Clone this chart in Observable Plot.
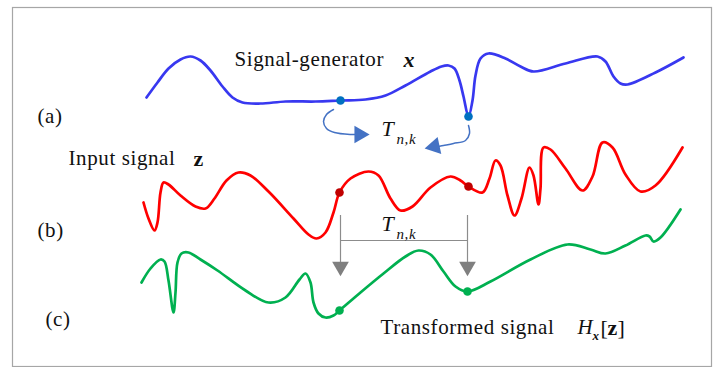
<!DOCTYPE html>
<html>
<head>
<meta charset="utf-8">
<script src="https://cdn.jsdelivr.net/npm/d3@7"></script>
<script src="https://cdn.jsdelivr.net/npm/@observablehq/plot@0.6"></script>
<style>
  html, body { margin: 0; padding: 0; background: #fff; }
  #chart svg { display: block; }
  #chart svg text { letter-spacing: 0.6px; font-family: "Liberation Serif", "Times New Roman", serif; }
</style>
</head>
<body>
<div id="chart"></div>
<script>
// ---- Data (pixel-space coordinates) ----
const signalX = [[146,97],[157,82],[168,68],[180,59],[190,56],[200,60],[210,70],[222,86],[232,97],[242,102],[260,103],[285,101],[315,101],[340,100],[365,99],[385,95],[405,85],[430,71],[441,66],[448,65],[454,68],[459,80],[463,96],[468,116],[472,100],[475,75],[480,58],[488,53],[505,58],[520,66],[533,71],[565,63],[597,56],[605,61],[613,76],[620,83],[627,84],[655,72],[683,57]];
const signalZ = [[143,202],[148,218],[154,230],[157,222],[160,192],[163,182],[168,184],[180,195],[195,206],[205,208],[214,198],[226,180],[238,172],[250,175],[268,191],[293,218],[308,234],[316,238],[325,232],[333,212],[339,192],[350,178],[368,171],[378,175],[390,198],[400,210],[412,206],[430,187],[450,176],[460,180],[468,186],[482,192],[489,178],[495,160],[500,165],[507,195],[514,215],[521,198],[529,167],[533,175],[538,204],[540,188],[543,147],[550,149],[565,168],[582,190],[592,176],[602,142],[612,147],[625,174],[640,191],[655,185],[682,147]];
const signalH = [[141,282],[150,268],[160,259],[164,261],[168,280],[173,312],[175,292],[177,262],[181,253],[188,252],[200,259],[217,270],[245,290],[268,302],[285,297],[299,279],[305,273],[310,282],[313,302],[318,313],[325,317],[333,315],[339,310],[360,292],[383,273],[405,256],[418,250],[430,254],[443,271],[455,286],[467,291],[490,281],[530,259],[567,244],[590,249],[605,253],[625,245],[645,235],[649,236],[653,241],[660,237],[680,209]];

const markersX = [[340,100],[468,116]];
const markersZ = [[339,192],[468,186]];
const markersH = [[339,310],[467,291]];

const bendLeft = [[333,109],[326,114],[323,121],[326,128],[334,132],[350,134],[356,134]];
const bendRight = [[468,125],[469,133],[465,140],[453,143],[443,145],[438,146]];
const bendHeads = [[359,134,90],[434,146,258]];

const shiftStart = [340,467];
const shiftTop = 215, shiftBar = 240, shiftEnd = 262;
const shiftHeads = [[340,266],[467,266]];

const labels = [
  {x:37, y:116, t:"(a)", s:21, st:"normal", w:"normal"},
  {x:37, y:230, t:"(b)", s:21, st:"normal", w:"normal"},
  {x:45, y:319, t:"(c)", s:21, st:"normal", w:"normal"},
  {x:234, y:59, t:"Signal-generator", s:21, st:"normal", w:"normal"},
  {x:403, y:59, t:"x", s:22, st:"italic", w:"bold"},
  {x:68, y:158, t:"Input signal", s:21, st:"normal", w:"normal"},
  {x:193, y:158, t:"z", s:22, st:"normal", w:"bold"},
  {x:380, y:327, t:"Transformed signal", s:21, st:"normal", w:"normal"},
  {x:577, y:327, t:"H", s:21, st:"italic", w:"normal"},
  {x:592, y:335, t:"x", s:13, st:"italic", w:"bold"},
  {x:600, y:327, t:"[", s:22, st:"normal", w:"normal"},
  {x:607, y:327, t:"z", s:22, st:"normal", w:"bold"},
  {x:617, y:327, t:"]", s:22, st:"normal", w:"normal"},
  {x:381, y:128, t:"T", s:22, st:"italic", w:"normal"},
  {x:396, y:139, t:"n,k", s:15, st:"italic", w:"normal"},
  {x:381, y:223, t:"T", s:22, st:"italic", w:"normal"},
  {x:396, y:234, t:"n,k", s:15, st:"italic", w:"normal"}
];

const font = "Liberation Serif";

const textMarks = labels.map(d => Plot.text([d], {
  x: "x", y: "y", text: "t", textAnchor: "start",
  fontSize: d.s, fontStyle: d.st, fontWeight: d.w, fontFamily: font, fill: "#111"
}));

const chart = Plot.plot({
  width: 715,
  height: 367,
  margin: 0,
  x: {domain: [0, 715], axis: null},
  y: {domain: [0, 367], reverse: true, axis: null},
  style: {background: "#fff", fontFamily: "Liberation Serif"},
  marks: [
    Plot.frame({insetLeft: 12, insetTop: 7, insetRight: 4, insetBottom: 1, stroke: "#a6a6a6", strokeWidth: 1.2}),
    // signals
    Plot.line(signalX, {x: d => d[0], y: d => d[1], stroke: "#3838F0", strokeWidth: 2.7, curve: "catmull-rom"}),
    Plot.line(signalZ, {x: d => d[0], y: d => d[1], stroke: "#FF0000", strokeWidth: 2.7, curve: "catmull-rom"}),
    Plot.line(signalH, {x: d => d[0], y: d => d[1], stroke: "#00B050", strokeWidth: 2.7, curve: "catmull-rom"}),
    // shift arrows (gray)
    Plot.ruleX(shiftStart, {x: d => d, y1: shiftTop, y2: shiftEnd, stroke: "#8c8c8c", strokeWidth: 1.2}),
    Plot.ruleY([shiftBar], {y: d => d, x1: shiftStart[0], x2: shiftStart[1], stroke: "#8c8c8c", strokeWidth: 1.2}),
    Plot.dot(shiftHeads, {x: d => d[0], y: d => d[1], symbol: "triangle", r: 6.2, rotate: 180, fill: "#7f7f7f", stroke: "none"}),
    // bent arrows (blue)
    Plot.line(bendLeft, {x: d => d[0], y: d => d[1], stroke: "#4472C4", strokeWidth: 1.5, curve: "catmull-rom"}),
    Plot.line(bendRight, {x: d => d[0], y: d => d[1], stroke: "#4472C4", strokeWidth: 1.5, curve: "catmull-rom"}),
    Plot.dot(bendHeads, {x: d => d[0], y: d => d[1], rotate: d => d[2], symbol: "triangle", r: 6.5, fill: "#4472C4", stroke: "none"}),
    // markers
    Plot.dot(markersX, {x: d => d[0], y: d => d[1], r: 4.3, fill: "#0070C0", stroke: "none"}),
    Plot.dot(markersZ, {x: d => d[0], y: d => d[1], r: 4.3, fill: "#C00000", stroke: "none"}),
    Plot.dot(markersH, {x: d => d[0], y: d => d[1], r: 4.3, fill: "#00B050", stroke: "none"}),
    ...textMarks
  ]
});
document.getElementById("chart").append(chart);
</script>
</body>
</html>
